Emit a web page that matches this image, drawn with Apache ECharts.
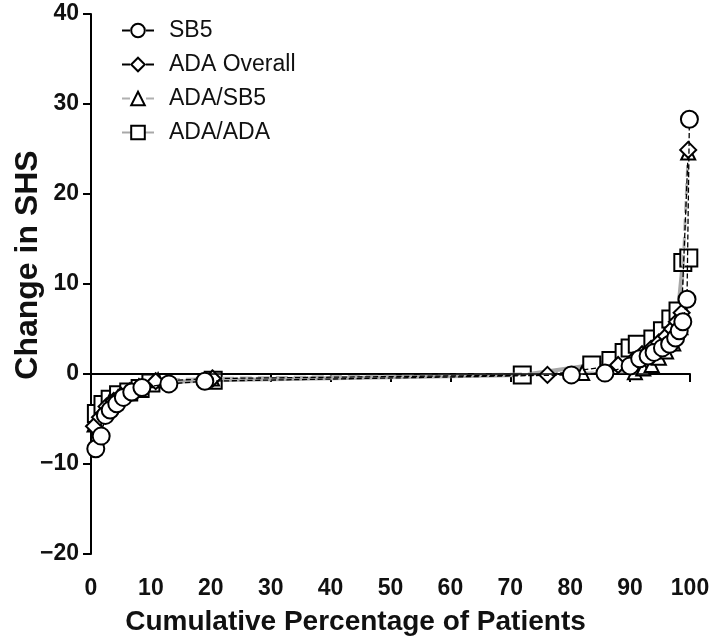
<!DOCTYPE html>
<html>
<head>
<meta charset="utf-8">
<script src="https://cdn.jsdelivr.net/npm/echarts@6/dist/echarts.min.js"></script>
<style>
  html, body { margin: 0; padding: 0; background: #fff; }
  #main { width: 709px; height: 641px; }
</style>
</head>
<body>
<div id="main"></div>
<script>
// values (cumulative % of patients, change in SHS)
var sb5X = [0.8, 1.7, 2.4, 3.2, 4.3, 5.4, 6.8, 8.5, 13.0, 19.0, 80.2, 85.8, 90.0, 91.6, 93.0, 94.0, 95.4, 96.6, 97.6, 98.2, 98.8, 99.5, 99.9];
var sb5Y = [-8.3, -6.9, -4.6, -4.0, -3.3, -2.6, -2.0, -1.5, -1.1, -0.8, -0.1, 0.1, 0.9, 1.7, 2.0, 2.4, 2.9, 3.3, 4.0, 4.8, 5.8, 8.3, 28.3];

var adaX = [0.5, 1.5, 2.6, 3.8, 5.0, 6.5, 8.0, 10.8, 20.3, 76.2, 88.0, 90.5, 92.0, 93.5, 94.8, 96.0, 97.0, 97.8, 98.6, 99.7];
var adaY = [-5.8, -4.8, -3.6, -3.0, -2.4, -1.9, -1.5, -0.8, -0.5, -0.1, 1.0, 1.5, 2.2, 2.8, 3.5, 4.2, 5.0, 5.8, 6.8, 24.9];

var adaSb5X = [0.6, 1.8, 3.0, 4.5, 6.2, 8.0, 11.2, 20.2, 82.0, 90.8, 92.2, 93.6, 94.8, 96.0, 97.2, 98.4, 99.7];
var adaSb5Y = [-5.6, -4.3, -3.2, -2.6, -2.0, -1.4, -0.7, -0.5, 0.1, 0.2, 0.6, 1.0, 1.8, 2.5, 3.4, 5.2, 24.6];

var adaAdaX = [0.9, 2.0, 3.2, 4.6, 6.3, 8.2, 10.0, 20.4, 72.0, 83.6, 86.8, 89.0, 90.0, 91.2, 93.8, 95.4, 96.8, 98.0, 98.8, 99.8];
var adaAdaY = [-4.4, -3.4, -2.8, -2.3, -2.0, -1.6, -1.0, -0.7, -0.1, 1.0, 1.5, 2.4, 2.9, 3.3, 3.9, 4.8, 6.1, 7.0, 12.4, 12.9];

var seriesNames = ['SB5', 'ADA Overall', 'ADA/SB5', 'ADA/ADA'];

function pairs(xs, ys) {
    var out = [];
    for (var i = 0; i < xs.length; i++) out.push([xs[i], ys[i]]);
    return out;
}

var font = '"Liberation Sans", Arial, sans-serif';
var markerStyle = { color: '#fff', borderColor: '#000', borderWidth: 2 };

var myChart = echarts.init(document.getElementById('main'));

var option = {
    animation: false,
    backgroundColor: '#fff',
    textStyle: { fontFamily: font },
    legend: {
        orient: 'vertical',
        left: 116,
        top: 14,
        itemGap: 11,
        itemWidth: 32,
        itemHeight: 17,
        data: seriesNames,
        textStyle: { fontSize: 23, color: '#111', fontFamily: font, padding: [0, 0, 0, 10] }
    },
    grid: { left: 91, right: 19, top: 14, bottom: 87, outerBoundsMode: 'none', containLabel: false },
    xAxis: {
        type: 'value',
        min: 0, max: 100, interval: 10,
        name: 'Cumulative Percentage of Patients',
        nameLocation: 'middle',
        nameGap: 54,
        nameTextStyle: { fontSize: 28, fontWeight: 'bold', color: '#111', fontFamily: font, padding: [0, 70, 0, 0] },
        axisLine: { lineStyle: { color: '#000', width: 2 } },
        axisTick: { length: 8, lineStyle: { color: '#000', width: 2 } },
        axisLabel: { fontSize: 23, fontWeight: 'bold', color: '#111', margin: 23 },
        splitLine: { show: false }
    },
    yAxis: {
        type: 'value',
        min: -20, max: 40, interval: 10,
        name: 'Change in SHS',
        nameLocation: 'middle',
        nameGap: 47,
        nameMoveOverlap: false,
        nameTextStyle: { fontSize: 32, fontWeight: 'bold', color: '#111', fontFamily: font, padding: [0, 0, 0, 38] },
        axisLine: { show: true, lineStyle: { color: '#000', width: 2 } },
        axisTick: { show: true, length: 8, lineStyle: { color: '#000', width: 2 } },
        axisLabel: {
            fontSize: 23, fontWeight: 'bold', color: '#111', margin: 12,
            formatter: function (v) { return String(v).replace('-', '\u2212'); }
        },
        splitLine: { show: false }
    },
    series: [
        {
            name: 'ADA/ADA', type: 'line', z: 2,
            data: pairs(adaAdaX, adaAdaY),
            symbol: 'rect', symbolSize: 17,
            lineStyle: { color: '#a8a8a8', width: 4 },
            itemStyle: markerStyle,
            markLine: {
                silent: true, symbol: 'none', label: { show: false },
                lineStyle: { color: '#000', width: 1.5, type: 'solid' },
                data: [{ yAxis: 0 }]
            }
        },
        {
            name: 'ADA/SB5', type: 'line', z: 3,
            data: pairs(adaSb5X, adaSb5Y),
            symbol: 'triangle', symbolSize: 14,
            lineStyle: { color: '#b0b0b0', width: 3, type: 'dashed' },
            itemStyle: markerStyle
        },
        {
            name: 'ADA Overall', type: 'line', z: 4,
            data: pairs(adaX, adaY),
            symbol: 'path://M0,-1L1,0L0,1L-1,0Z', symbolSize: 16,
            lineStyle: { color: '#000', width: 1.3, type: 'dashed' },
            itemStyle: markerStyle
        },
        {
            name: 'SB5', type: 'line', z: 5,
            data: pairs(sb5X, sb5Y),
            symbol: 'circle', symbolSize: 17,
            lineStyle: { color: '#000', width: 1.3, type: 'dashed' },
            itemStyle: markerStyle
        }
    ]
};

myChart.setOption(option);
</script>
</body>
</html>
